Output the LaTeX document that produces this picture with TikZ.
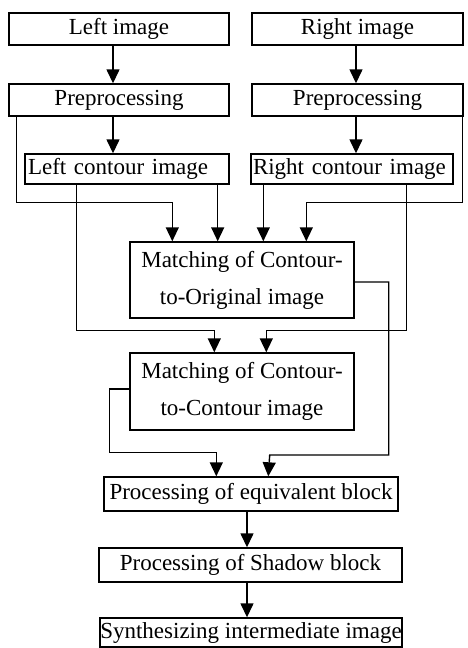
\documentclass[tikz,border=0pt]{standalone}
\usepackage{fontspec}
\setmainfont{Liberation Serif}
\usetikzlibrary{arrows.meta,calc}
\begin{document}
\begin{tikzpicture}[x=1pt,y=1pt,
  box/.style={draw, line width=1.4pt, inner sep=0pt, font=\fontsize{23}{37}\selectfont},
  arr/.style={line width=1.4pt, -{Triangle[length=14pt,width=13pt]}},
  ln/.style={line width=1.4pt}]
\useasboundingbox (0,0) rectangle (467,-648);
\node[box, minimum width=220, minimum height=32] (L) at (119,-29) {Left image};
\node[box, minimum width=211, minimum height=32] (R) at (357.5,-29) {Right image};
\node[box, minimum width=220, minimum height=32] (LP) at (119,-100) {Preprocessing};
\node[box, minimum width=211, minimum height=32] (RP) at (357.5,-100) {Preprocessing};
\node[box, minimum width=204, minimum height=30, text width=198, align=left] (LC) at (127,-169) {Left contour image};
\node[box, minimum width=202, minimum height=30, text width=198, align=left] (RC) at (352,-169) {Right contour image};
\node[box, minimum width=224, minimum height=76, align=center] (M1) at (242,-280) {Matching of Contour-\\to-Original image};
\node[box, minimum width=224, minimum height=77, align=center] (M2) at (242,-391.5) {Matching of Contour-\\to-Contour image};
\node[box, minimum width=294, minimum height=34] (PE) at (251,-494) {Processing of equivalent block};
\node[box, minimum width=303, minimum height=34] (PS) at (250.5,-565) {Processing of Shadow block};
\node[box, minimum width=302, minimum height=29] (SY) at (251,-632.5) {Synthesizing intermediate image};
% vertical arrows
\draw[arr] ([xshift=-6pt]L.south) -- ([xshift=-6pt]L.south |- LP.north);
\draw[arr] ([xshift=-1.5pt]R.south) -- ([xshift=-1.5pt]R.south |- RP.north);
\draw[arr] ([xshift=-6pt]LP.south) -- ([xshift=-6pt]LP.south |- LC.north);
\draw[arr] ([xshift=-1.5pt]RP.south) -- ([xshift=-1.5pt]RP.south |- RC.north);
% into M1
\draw[arr] ([xshift=8pt]LP.south west) -- ++(0,-86) -| ([xshift=43pt]M1.north west);
\draw[arr] ([xshift=-12pt]LC.south east) -- ([xshift=-12pt]LC.south east |- M1.north);
\draw[arr] ([xshift=13pt]RC.south west) -- ([xshift=13pt]RC.south west |- M1.north);
\draw[arr] ([xshift=-1pt]RP.south east) -- ++(0,-86) -| ([xshift=177pt]M1.north west);
% into M2
\draw[arr] ([xshift=52pt]LC.south west) -- ++(0,-146) -| ([xshift=85pt]M2.north west);
\draw[arr] ([xshift=156pt]RC.south west) -- ++(0,-146) -| ([xshift=137pt]M2.north west);
% into PE
\draw[arr] ([yshift=-2pt]M1.east) -- ++(34,0) |- ++(-119,-173) -- ([xshift=165pt]PE.north west);
\draw[arr] ([yshift=2.5pt]M2.west) -- ++(-20,0) |- ++(107,-63.5) -- ([xshift=113pt]PE.north west);
% lower chain
\draw[arr] ([xshift=-4pt]PE.south) -- ([xshift=-4pt]PE.south |- PS.north);
\draw[arr] ([xshift=-3.5pt]PS.south) -- ([xshift=-3.5pt]PS.south |- SY.north);
\end{tikzpicture}
\end{document}
